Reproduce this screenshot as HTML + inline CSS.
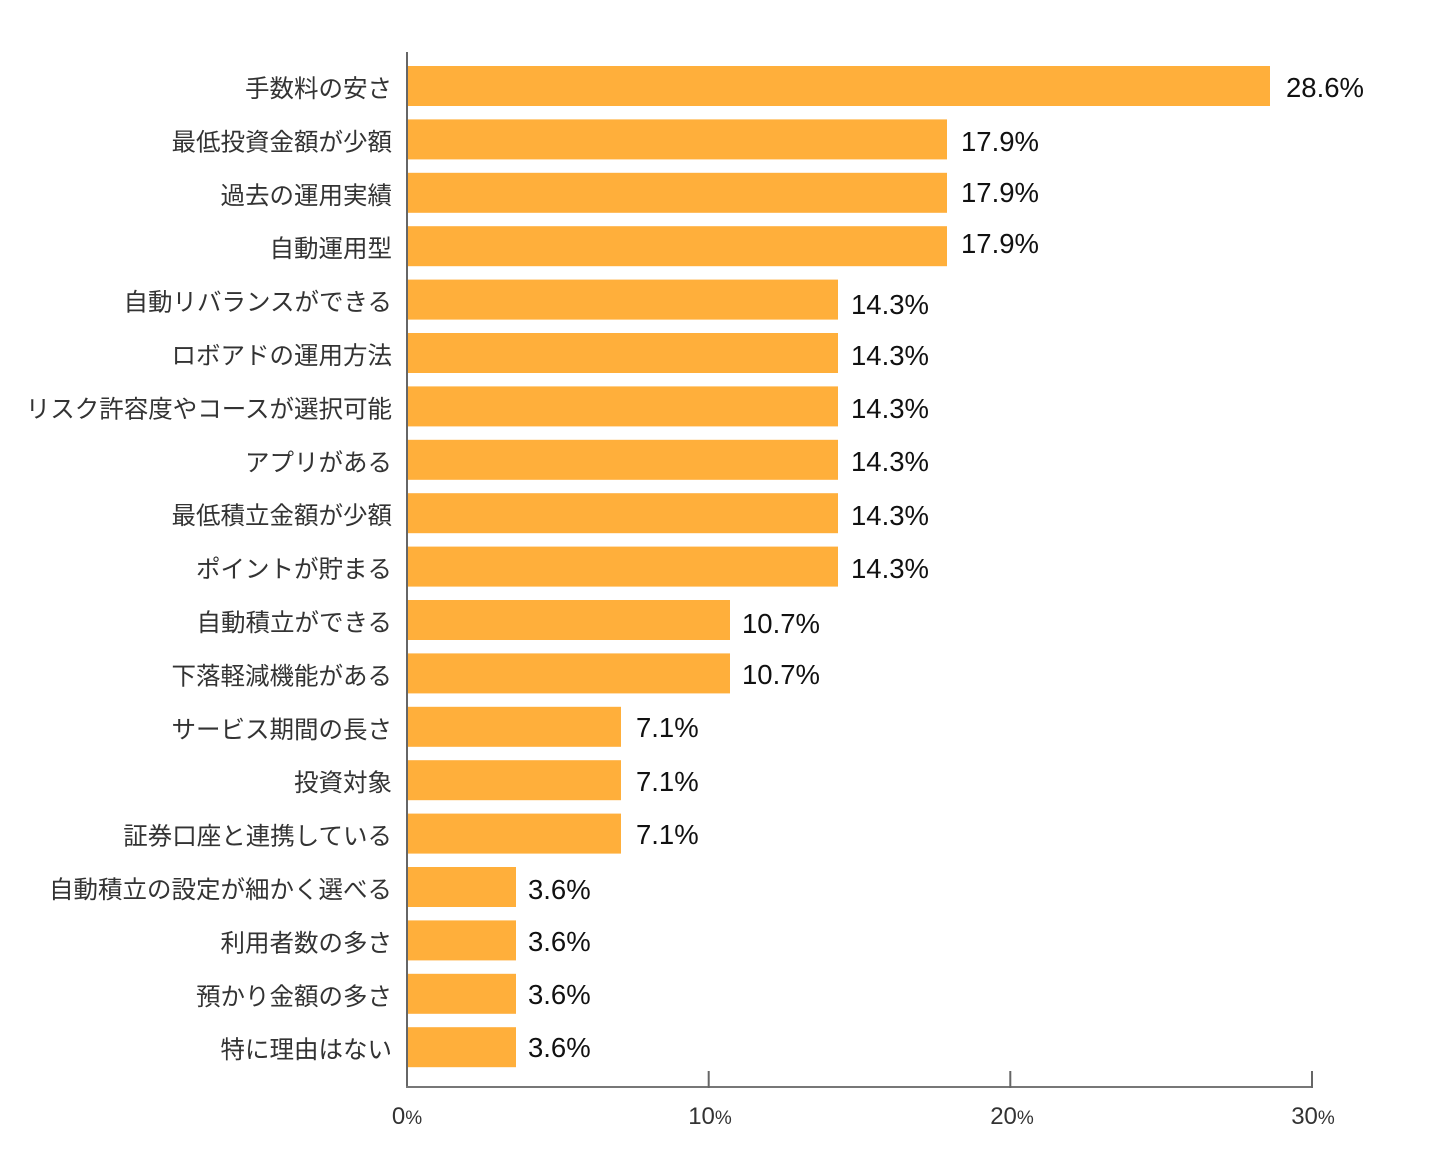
<!DOCTYPE html>
<html><head><meta charset="utf-8"><style>
html,body{margin:0;padding:0;background:#fff;}
svg{display:block;}
.l{font-family:"Liberation Sans","Noto Sans CJK JP",sans-serif;font-size:24.5px;fill:#333;}
.v{font-family:"Liberation Sans",sans-serif;font-size:27.5px;fill:#111;}
.t{font-family:"Liberation Sans",sans-serif;font-size:24px;fill:#333;}
</style></head><body>
<svg width="1432" height="1160" viewBox="0 0 1432 1160" xmlns="http://www.w3.org/2000/svg">
<g fill="#FFAF3B">
<rect x="408" y="66" width="862" height="40"/>
<rect x="408" y="119.4" width="539" height="40"/>
<rect x="408" y="172.8" width="539" height="40"/>
<rect x="408" y="226.2" width="539" height="40"/>
<rect x="408" y="279.6" width="430" height="40"/>
<rect x="408" y="333" width="430" height="40"/>
<rect x="408" y="386.4" width="430" height="40"/>
<rect x="408" y="439.8" width="430" height="40"/>
<rect x="408" y="493.2" width="430" height="40"/>
<rect x="408" y="546.6" width="430" height="40"/>
<rect x="408" y="600" width="322" height="40"/>
<rect x="408" y="653.4" width="322" height="40"/>
<rect x="408" y="706.8" width="213" height="40"/>
<rect x="408" y="760.2" width="213" height="40"/>
<rect x="408" y="813.6" width="213" height="40"/>
<rect x="408" y="867" width="108" height="40"/>
<rect x="408" y="920.4" width="108" height="40"/>
<rect x="408" y="973.8" width="108" height="40"/>
<rect x="408" y="1027.2" width="108" height="40"/>
</g>
<g text-anchor="end">
<text class="l" x="392" y="97">手数料の安さ</text>
<text class="l" x="392" y="150.4">最低投資金額が少額</text>
<text class="l" x="392" y="203.8">過去の運用実績</text>
<text class="l" x="392" y="257.2">自動運用型</text>
<text class="l" x="392" y="310.6">自動リバランスができる</text>
<text class="l" x="392" y="364">ロボアドの運用方法</text>
<text class="l" x="392" y="417.4">リスク許容度やコースが選択可能</text>
<text class="l" x="392" y="470.8">アプリがある</text>
<text class="l" x="392" y="524.2">最低積立金額が少額</text>
<text class="l" x="392" y="577.6">ポイントが貯まる</text>
<text class="l" x="392" y="631">自動積立ができる</text>
<text class="l" x="392" y="684.4">下落軽減機能がある</text>
<text class="l" x="392" y="737.8">サービス期間の長さ</text>
<text class="l" x="392" y="791.2">投資対象</text>
<text class="l" x="392" y="844.6">証券口座と連携している</text>
<text class="l" x="392" y="898">自動積立の設定が細かく選べる</text>
<text class="l" x="392" y="951.4">利用者数の多さ</text>
<text class="l" x="392" y="1004.8">預かり金額の多さ</text>
<text class="l" x="392" y="1058.2">特に理由はない</text>
</g>
<g>
<text class="v" x="1286" y="97">28.6%</text>
<text class="v" x="961" y="151">17.9%</text>
<text class="v" x="961" y="202">17.9%</text>
<text class="v" x="961" y="253">17.9%</text>
<text class="v" x="851" y="314">14.3%</text>
<text class="v" x="851" y="365">14.3%</text>
<text class="v" x="851" y="418">14.3%</text>
<text class="v" x="851" y="471">14.3%</text>
<text class="v" x="851" y="525">14.3%</text>
<text class="v" x="851" y="578">14.3%</text>
<text class="v" x="742" y="633">10.7%</text>
<text class="v" x="742" y="684">10.7%</text>
<text class="v" x="636" y="737">7.1%</text>
<text class="v" x="636" y="791">7.1%</text>
<text class="v" x="636" y="844">7.1%</text>
<text class="v" x="528" y="899">3.6%</text>
<text class="v" x="528" y="951">3.6%</text>
<text class="v" x="528" y="1004">3.6%</text>
<text class="v" x="528" y="1057">3.6%</text>
</g>
<line x1="407" y1="52" x2="407" y2="1088" stroke="#666" stroke-width="2"/>
<line x1="406" y1="1087" x2="1313" y2="1087" stroke="#777" stroke-width="2"/>
<line x1="708.7" y1="1071" x2="708.7" y2="1088" stroke="#666" stroke-width="2"/>
<line x1="1010.3" y1="1071" x2="1010.3" y2="1088" stroke="#666" stroke-width="2"/>
<line x1="1312" y1="1071" x2="1312" y2="1088" stroke="#666" stroke-width="2"/>
<text class="t" x="407" y="1124" text-anchor="middle">0<tspan font-size="19">%</tspan></text>
<text class="t" x="710" y="1124" text-anchor="middle">10<tspan font-size="19">%</tspan></text>
<text class="t" x="1012" y="1124" text-anchor="middle">20<tspan font-size="19">%</tspan></text>
<text class="t" x="1313" y="1124" text-anchor="middle">30<tspan font-size="19">%</tspan></text>
</svg>
</body></html>
